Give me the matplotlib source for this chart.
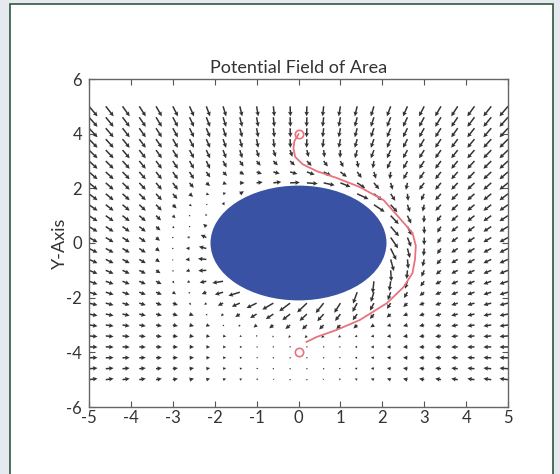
import numpy as np
import matplotlib
matplotlib.use("Agg")
import matplotlib.pyplot as plt
from matplotlib.patches import Ellipse, Rectangle

plt.rcParams['font.family'] = ['Lato', 'DejaVu Sans']

# Scene description
start = (0.0, 4.0)
goal = (0.0, -4.0)
obstacle_center = (0.0, 0.0)
obstacle_radius = 2.1

# Field sampling grid
grid_x = np.linspace(-5, 5, 26)
grid_y = np.linspace(-5, 5, 26)

# Field strengths
attract_gain = 1.0
repulse_reach = 1.6
repulse_radial = 6.5
repulse_swirl = 6.5
max_strength = 12.0

# Path followed from start to goal
path_x = [0.00, -0.10, -0.12, -0.08, 0.10, 0.45, 0.91, 1.46, 2.03, 2.39, 2.72,
          2.80, 2.78, 2.72, 2.51, 2.11, 1.46, 0.91, 0.43, 0.19]
path_y = [3.98, 3.72, 3.45, 3.15, 2.88, 2.62, 2.38, 2.05, 1.57, 0.95, 0.37,
          -0.10, -0.60, -1.10, -1.61, -2.20, -2.82, -3.18, -3.44, -3.62]

X, Y = np.meshgrid(grid_x, grid_y)

# Linear attraction towards the goal
Ua = -attract_gain * (X - goal[0])
Va = -attract_gain * (Y - goal[1])

# Repulsion around the obstacle with a clockwise swirl
qx, qy = X - obstacle_center[0], Y - obstacle_center[1]
q = np.hypot(qx, qy)
q_safe = np.where(q == 0, 1, q)
nx, ny = qx / q_safe, qy / q_safe
tx, ty = ny, -nx
rho = q - obstacle_radius
w = np.clip(1 - rho / repulse_reach, 0, None) * (rho > 0)
U = Ua + w * (repulse_radial * nx + repulse_swirl * tx)
V = Va + w * (repulse_radial * ny + repulse_swirl * ty)

mag = np.hypot(U, V)
clip = np.where(mag > max_strength, max_strength / np.where(mag == 0, 1, mag), 1)
U, V = U * clip, V * clip
inside = q <= obstacle_radius
U[inside] = np.nan
V[inside] = np.nan

fig = plt.figure(figsize=(5.6, 4.74), dpi=100)
fig.patch.set_facecolor('#e7e9f1')
panel = Rectangle((10 / 560, -0.05), 543 / 560, 1 - 4 / 474 + 0.05,
                  transform=fig.transFigure, facecolor='white',
                  edgecolor='#2f5a3a', linewidth=1.2, zorder=-10)
fig.add_artist(panel)

ax = fig.add_axes([89 / 560, 1 - 407 / 474, 419 / 560, 328 / 474])
ax.set_zorder(1)
ax.set_facecolor('white')

ax.quiver(X, Y, U, V, angles='xy', scale_units='xy', scale=24.6,
          color='#333333', width=0.0036, headwidth=3.0, headlength=3.0,
          headaxislength=2.7, zorder=2)

ax.add_patch(Ellipse(obstacle_center, 2 * obstacle_radius, 2 * obstacle_radius,
                     facecolor='#3a52a3', edgecolor='none', zorder=3))

ax.plot(path_x, path_y, color='#e8737c', linewidth=1.3, zorder=4)
ax.plot(*start, marker='o', markersize=6, markerfacecolor='none',
        markeredgecolor='#e8737c', markeredgewidth=1.2, zorder=5)
ax.plot(*goal, marker='o', markersize=6, markerfacecolor='none',
        markeredgecolor='#e8737c', markeredgewidth=1.2, zorder=5)

ax.set_xlim(-5, 5)
ax.set_ylim(-6, 6)
ax.set_xticks(range(-5, 6))
ax.set_yticks(range(-6, 7, 2))
ax.set_xticklabels([str(v) for v in range(-5, 6)])
ax.set_yticklabels([str(v) for v in range(-6, 7, 2)])
ax.tick_params(direction='in', length=4, width=0.8, color='#555555',
               labelsize=12, labelcolor='#333333', top=True, right=True)
ax.tick_params(axis='x', pad=2)
ax.tick_params(axis='y', pad=5)
for s in ax.spines.values():
    s.set_color('#666666')
    s.set_linewidth(1.0)

ax.set_title('Potential Field of Area', fontsize=13, color='#333333', pad=4)
ax.set_ylabel('Y-Axis', fontsize=13, color='#333333')
ax.yaxis.set_label_coords(-0.05, 0.5)

fig.savefig('out.png', dpi=100, facecolor=fig.get_facecolor())
